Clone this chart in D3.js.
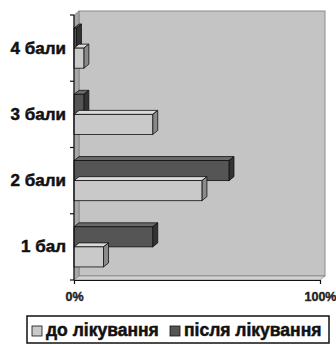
<!DOCTYPE html>
<html>
<head>
<meta charset="utf-8">
<script src="https://cdn.jsdelivr.net/npm/d3@7"></script>
<style>
  body { margin: 0; background: #fff; }
  text { font-family: "Liberation Sans", Arial, sans-serif; font-weight: 700; }
</style>
</head>
<body>
<svg id="drawing_region"></svg>
<script>
// categories top to bottom, values in %
const categories = ['4 бали', '3 бали', '2 бали', '1 бал'];
const series = ['після лікування', 'до лікування'];
const after = [1, 4, 63, 32];    // після лікування
const before = [4, 32, 52, 12];  // до лікування
const xTicks = [0, 100];

const width = 336, height = 345;
const depth = { x: 5, y: 4 };
const font = '"Liberation Sans", Arial, sans-serif';
const colors = {
    'до лікування': { front: '#c9c9c9', top: '#dadada', side: '#8a8a8a' },
    'після лікування': { front: '#555555', top: '#6a6a6a', side: '#333333' }
};

const rows = [];
categories.forEach((c, i) => {
    rows.push({ cat: c, key: 'після лікування', value: after[i] });
    rows.push({ cat: c, key: 'до лікування', value: before[i] });
});

const svg = d3.select('#drawing_region')
    .attr('width', width)
    .attr('height', height);

const x = d3.scaleLinear().domain([0, 100]).range([74, 320]);
const y = d3.scaleBand().domain(categories).range([15, 280]);
const ys = d3.scaleBand().domain(series).range([0, y.bandwidth()])
    .paddingOuter(0.65);

const x0 = x(0), x1 = x(100), y0 = y.range()[0], y1 = y.range()[1];

// back wall
svg.append('rect')
    .attr('x', x0 + depth.x).attr('y', y0 - depth.y)
    .attr('width', x1 - x0).attr('height', y1 - y0)
    .attr('fill', '#c4c4c4').attr('stroke', '#8c8c8c').attr('stroke-width', 1);

// side wall and floor
svg.append('polygon')
    .attr('points', [[x0, y0], [x0 + depth.x, y0 - depth.y], [x0 + depth.x, y1 - depth.y], [x0, y1]].join(' '))
    .attr('fill', '#a8a8a8').attr('stroke', '#777').attr('stroke-width', 0.6);
svg.append('polygon')
    .attr('points', [[x0, y1], [x0 + depth.x, y1 - depth.y], [x1 + depth.x, y1 - depth.y], [x1, y1]].join(' '))
    .attr('fill', '#d2d2d2').attr('stroke', '#777').attr('stroke-width', 0.6);

// bars
const bars = svg.append('g').selectAll('g')
    .data(rows)
    .join('g');

bars.each(function (d) {
    const g = d3.select(this);
    const bx0 = x(0), bx1 = x(d.value);
    const by = y(d.cat) + ys(d.key), bh = ys.bandwidth();
    const c = colors[d.key];
    g.append('polygon')
        .attr('points', [[bx0, by], [bx0 + depth.x, by - depth.y], [bx1 + depth.x, by - depth.y], [bx1, by]].join(' '))
        .attr('fill', c.top).attr('stroke', '#111').attr('stroke-width', 0.8);
    g.append('polygon')
        .attr('points', [[bx1, by], [bx1 + depth.x, by - depth.y], [bx1 + depth.x, by + bh - depth.y], [bx1, by + bh]].join(' '))
        .attr('fill', c.side).attr('stroke', '#111').attr('stroke-width', 0.8);
    g.append('rect')
        .attr('x', bx0).attr('y', by)
        .attr('width', bx1 - bx0).attr('height', bh)
        .attr('fill', c.front).attr('stroke', '#111').attr('stroke-width', 0.8);
});

// left axis with ticks at band edges
svg.append('line')
    .attr('x1', x0).attr('x2', x0).attr('y1', y0).attr('y2', y1)
    .attr('stroke', '#111').attr('stroke-width', 1.2);
const edges = categories.map(c => y(c)).concat([y1]);
svg.append('g').selectAll('line')
    .data(edges)
    .join('line')
    .attr('x1', x0 - 4).attr('x2', x0).attr('y1', d => d).attr('y2', d => d)
    .attr('stroke', '#111').attr('stroke-width', 1.2);

svg.append('g')
    .attr('transform', `translate(${x0},0)`)
    .call(d3.axisLeft(y).tickSize(0).tickPadding(8))
    .call(g => g.select('.domain').remove())
    .selectAll('text')
    .attr('font-size', 17)
    .attr('font-family', font)
    .attr('font-weight', 700)
    .attr('fill', '#111')
    .attr('stroke', '#111').attr('stroke-width', 0.5);

// bottom axis
svg.append('g')
    .attr('transform', `translate(0,${y1})`)
    .call(d3.axisBottom(x).tickValues(xTicks).tickSize(4).tickPadding(8).tickFormat(d => d + '%'))
    .call(g => g.select('.domain').attr('stroke', '#111').attr('stroke-width', 1.2))
    .call(g => g.selectAll('.tick line').attr('stroke', '#111'))
    .selectAll('text')
    .attr('font-size', 12.5)
    .attr('font-family', font)
    .attr('font-weight', 700)
    .attr('fill', '#222')
    .attr('stroke', '#222').attr('stroke-width', 0.4);

// legend
const legend = svg.append('g');
legend.append('rect')
    .attr('x', 27).attr('y', 316).attr('width', 302).attr('height', 27)
    .attr('fill', '#fff').attr('stroke', '#111').attr('stroke-width', 1.5);
const legendItems = [
    { key: 'до лікування', x: 32 },
    { key: 'після лікування', x: 170 }
];
legendItems.forEach(it => {
    legend.append('rect')
        .attr('x', it.x).attr('y', 326).attr('width', 10).attr('height', 10)
        .attr('fill', colors[it.key].front).attr('stroke', '#111').attr('stroke-width', 0.8);
    legend.append('text')
        .attr('x', it.x + 14).attr('y', 336)
        .attr('font-size', 17.5)
        .attr('font-family', font)
        .attr('font-weight', 700)
        .attr('fill', '#111')
        .attr('stroke', '#111').attr('stroke-width', 0.5)
        .text(it.key);
});
</script>
</body>
</html>
